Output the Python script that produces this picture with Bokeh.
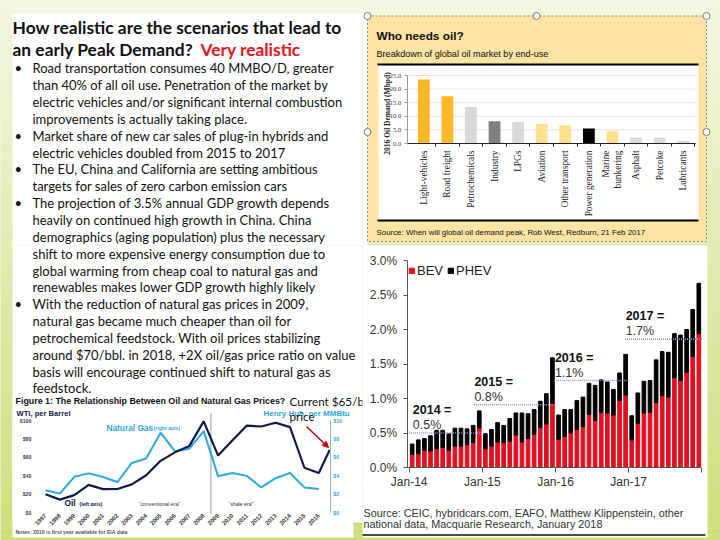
import math
from bokeh.plotting import figure
from bokeh.models import (Range1d, LinearAxis, FixedTicker, PrintfTickFormatter,
                          NumeralTickFormatter, ColumnDataSource, Arrow, NormalHead)
from bokeh.core.properties import value
from bokeh.embed import file_html
from bokeh.resources import INLINE

# ---------------- data ----------------
# Who needs oil? 2016 oil demand by end use (Mbpd)
end_uses = ["Light-vehicles", "Road freight", "Petrochemicals", "Industry", "LPGs",
            "Aviation", "Other transport", "Power generation", "Marine\nbunkering",
            "Asphalt", "Petcoke", "Lubricants"]
oil_demand = [23.5, 17.4, 13.4, 8.2, 7.9, 7.3, 6.6, 5.5, 4.5, 2.1, 2.1, 1.0]
end_use_colors = ["#FDB827", "#FDB827", "#D9D9D9", "#808080", "#D9D9D9", "#FFE08C",
                  "#FFE08C", "#000000", "#FFE08C", "#D9D9D9", "#D9D9D9", "#D9D9D9"]
od_ticks = [0, 5, 10, 15, 20, 25]

# EV market share, monthly Jan-14 .. Dec-17 (% of new car sales)
months = [f"{m}-{y}" for y in ("14", "15", "16", "17")
          for m in ("Jan", "Feb", "Mar", "Apr", "May", "Jun",
                    "Jul", "Aug", "Sep", "Oct", "Nov", "Dec")]
bev = [0.19, 0.20, 0.25, 0.24, 0.27, 0.29, 0.25, 0.31, 0.31, 0.33, 0.36, 0.57,
       0.27, 0.31, 0.37, 0.36, 0.38, 0.47, 0.37, 0.42, 0.48, 0.58, 0.63, 0.93,
       0.41, 0.45, 0.50, 0.55, 0.59, 0.77, 0.68, 0.80, 0.79, 0.76, 0.97, 1.05,
       0.40, 0.64, 0.79, 0.80, 0.94, 1.04, 1.02, 1.30, 1.26, 1.38, 1.61, 1.94]
phev = [0.15, 0.20, 0.17, 0.22, 0.27, 0.25, 0.24, 0.26, 0.26, 0.23, 0.25, 0.25,
        0.22, 0.24, 0.28, 0.25, 0.33, 0.32, 0.42, 0.36, 0.36, 0.38, 0.44, 0.66,
        0.35, 0.39, 0.34, 0.42, 0.43, 0.45, 0.51, 0.47, 0.45, 0.37, 0.40, 0.59,
        0.35, 0.44, 0.46, 0.46, 0.62, 0.64, 0.65, 0.64, 0.66, 0.62, 0.68, 0.73]
ev_ticks = [0, 0.5, 1.0, 1.5, 2.0, 2.5, 3.0]
avg_year_labels = ["2014 =", "2015 =", "2016 =", "2017 ="]
avg_value_labels = ["0.5%", "0.8%", "1.1%", "1.7%"]
avg_level = [0.50, 0.91, 1.26, 1.86]
avg_start = [-0.5, 10.1, 23.3, 34.9]
avg_end = [11.7, 23.1, 35.6, 47.6]

# Oil (WTI $/bbl) and natural gas (Henry Hub $/MMBtu) prices
years = list(range(1997, 2017))
oil_price = [20.2, 14.3, 19.2, 30.2, 25.7, 25.8, 30.8, 40.7, 56.3, 65.5,
             72.5, 99.0, 62.0, 78.5, 94.5, 93.5, 97.5, 92.8, 48.8, 43.2]
oil_current_year = 2016.75
oil_current = 68.0
gas_price = [2.45, 2.08, 3.90, 4.27, 3.88, 3.33, 5.40, 5.88, 8.68, 6.65,
             6.95, 8.85, 3.95, 4.32, 4.00, 2.75, 3.75, 4.32, 2.75, 2.58]
oil_ticks = [0, 20, 40, 60, 80, 100]
gas_ticks = [0, 2, 4, 6, 8, 10]
era_split = 2008.5

title_line1 = "How realistic are the scenarios that lead to"
title_line2 = "an early Peak Demand?"
title_red = "Very realistic"
body_lines = [
    ("\u2022", "Road transportation consumes 40 MMBO/D, greater"),
    ("", "than 40% of all oil use.  Penetration of the market by"),
    ("", "electric vehicles and/or significant  internal combustion"),
    ("", "improvements is actually taking place."),
    ("\u2022", "Market share of new car sales of plug-in hybrids and"),
    ("", "electric vehicles doubled from 2015 to 2017"),
    ("\u2022", "The EU, China and California are setting ambitious"),
    ("", "targets for sales of zero carbon emission cars"),
    ("\u2022", "The projection of 3.5% annual GDP growth depends"),
    ("", "heavily on continued high growth in China.  China"),
    ("", "demographics (aging population) plus the necessary"),
    ("", "shift to more expensive energy consumption due to"),
    ("", "global warming from cheap coal to natural gas and"),
    ("", "renewables makes lower GDP growth highly likely"),
    ("\u2022", "With the reduction of natural gas prices in 2009,"),
    ("", "natural gas became much cheaper than oil for"),
    ("", "petrochemical feedstock.  With oil prices stabilizing"),
    ("", "around $70/bbl. in 2018,  +2X oil/gas price ratio on value"),
    ("", "basis will encourage continued shift to natural gas as"),
    ("", "feedstock."),
]

# ---------------- helpers ----------------
W, H = 720, 540

def span_range(v0, p0, v1, p1, lo, hi):
    k = (v1 - v0) / (p1 - p0)
    return Range1d(start=v0 + (lo - p0) * k, end=v0 + (hi - p0) * k)

def px_to(v0, p0, v1, p1, px):
    return v0 + (px - p0) * (v1 - v0) / (p1 - p0)

p = figure(width=W, height=H, x_range=Range1d(0, W), y_range=Range1d(H, 0),
           output_backend="svg", toolbar_location=None, x_axis_location=None,
           y_axis_location=None, min_border=0, outline_line_color=None,
           background_fill_color="#E2EDB5", border_fill_color="#E2EDB5")
p.xgrid.visible = False
p.ygrid.visible = False

p.extra_x_ranges = {
    "odx": span_range(0, 423.3, 11, 682.7, 0, W),
    "evx": span_range(0, 411.7, 47, 698.3, 0, W),
    "lcx": span_range(1997, 45.0, 2016, 318.3, 0, W),
}
p.extra_y_ranges = {
    "ody": span_range(0, 143, 25, 75, H, 0),
    "evy": span_range(0, 467, 3, 260, H, 0),
    "lcy": span_range(0, 512.3, 100, 420, H, 0),
    "lcg": span_range(0, 512.3, 10, 420, H, 0),
}

def txt(x, y, s, size, color="#1a1a1a", font="Lato", style="normal", align="left",
        baseline="middle", angle=0, **kw):
    p.text(x=[x], y=[y], text=[s], text_font=value(font), text_font_size=f"{size}px",
           text_font_style=style, text_color=color, text_align=align,
           text_baseline=baseline, angle=angle, **kw)

def box(l, r, t, b, color, **kw):
    p.quad(left=[l], right=[r], top=[t], bottom=[b], fill_color=color, line_color=None, **kw)

# ---------------- slide background (pale top -> green bottom) ----------------
c_top, c_bot = (243, 247, 228), (204, 223, 120)
nb = 90
bands_t = [H * i / nb for i in range(nb)]
bands_b = [H * (i + 1) / nb for i in range(nb)]
band_cols = []
for i in range(nb):
    f = (i + 0.5) / nb
    band_cols.append("#%02x%02x%02x" % tuple(round(a + (b - a) * f) for a, b in zip(c_top, c_bot)))
p.quad(left=0, right=W, top=bands_t, bottom=bands_b, fill_color=band_cols, line_color=None)

box(12, 367, 13, 245, "white")
box(12, 362, 245, 522, "white")
box(12, 353, 395, 537, "white")

# ---------------- left text ----------------
txt(12, 26.7, title_line1, 17.4, style="bold", color="#111111")
txt(12, 49, title_line2, 17.4, style="bold", color="#111111")
txt(200, 49, title_red, 17.4, style="bold", color="#E8141B")
for i, (bul, line) in enumerate(body_lines):
    yy = 67.8 + 16.85 * i
    if bul:
        txt(14, yy, bul, 13, color="#111111")
    txt(32, yy, line, 13, color="#111111")

# ---------------- oil vs gas line chart ----------------
NAVY = "#0E1A48"
LBLUE = "#2FA8E0"
txt(15, 400, "Figure 1: The Relationship Between Oil and Natural Gas Prices?", 8.9,
    font="Liberation Sans", style="bold", color="#111111")
txt(16, 412.5, "WTI, per Barrel", 7.6, font="Liberation Sans", style="bold", color=NAVY)
txt(263, 412.5, "Henry Hub, per MMBtu", 8, font="Liberation Sans", style="bold", color=LBLUE)

p.segment(x0=[era_split], x1=[era_split], y0=[-1], y1=[108], line_color="#9A9A9A",
          line_width=1, x_range_name="lcx", y_range_name="lcy")
p.line(x=years, y=gas_price, line_color=LBLUE, line_width=2,
       x_range_name="lcx", y_range_name="lcg")
p.line(x=years + [oil_current_year], y=oil_price + [oil_current], line_color=NAVY,
       line_width=2.2, x_range_name="lcx", y_range_name="lcy")

txt(106, 427, "Natural Gas", 8.3, font="Liberation Sans", style="bold", color=LBLUE)
txt(153, 427.5, "(right axis)", 5.2, font="Liberation Sans", style="bold", color=LBLUE)
txt(64, 502.5, "Oil", 8.3, font="Liberation Sans", style="bold", color=NAVY)
txt(79, 503, "(left axis)", 5.2, font="Liberation Sans", style="bold", color=NAVY)
txt(138, 503.5, "\u201cconventional era\u201d", 5.2, font="Liberation Sans", color="#333333")
txt(228, 503.5, "\u201cshale era\u201d", 5.2, font="Liberation Sans", color="#333333")
txt(15, 531, "Notes: 2016 is first year available for EIA data", 5.2,
    font="Liberation Sans", style="bold", color="#555555")
txt(289, 400, "Current $65/bbl", 11.7, color="#111111")
txt(289, 415.5, "price", 11.7, color="#111111")

lc_left = LinearAxis(x_range_name="lcx", y_range_name="lcy", fixed_location=1996.5,
                     bounds=(0, 100), ticker=FixedTicker(ticks=oil_ticks),
                     formatter=NumeralTickFormatter(format="$0"))
lc_right = LinearAxis(x_range_name="lcx", y_range_name="lcg", fixed_location=2016.8,
                      bounds=(0, 10), ticker=FixedTicker(ticks=gas_ticks),
                      formatter=NumeralTickFormatter(format="$0"))
lc_bottom = LinearAxis(x_range_name="lcx", y_range_name="lcy", fixed_location=0,
                       bounds=(1997, 2016), ticker=FixedTicker(ticks=years))
for ax, col in ((lc_left, "#444444"), (lc_right, LBLUE), (lc_bottom, "#333333")):
    ax.axis_line_color = None
    ax.major_tick_line_color = None
    ax.minor_tick_line_color = None
    ax.major_tick_out = 0
    ax.major_tick_in = 0
    ax.major_label_text_font = "Liberation Sans"
    ax.major_label_text_font_style = "bold"
    ax.major_label_text_font_size = "5.2px"
    ax.major_label_text_color = col
lc_left.major_label_standoff = 7
lc_right.axis_line_color = "#AAAAAA"
lc_right.major_label_standoff = 3
lc_bottom.major_label_orientation = math.pi / 4
lc_bottom.major_label_text_font_size = "6px"
lc_bottom.major_label_standoff = 2
p.add_layout(lc_left, "left")
p.add_layout(lc_right, "right")
p.add_layout(lc_bottom, "below")

p.add_layout(Arrow(end=NormalHead(size=6, fill_color="#C00000", line_color="#C00000"),
                   x_start=306, y_start=426, x_end=328, y_end=447,
                   line_color="#C00000", line_width=1.5))

# ---------------- Who needs oil? panel ----------------
box(367, 706, 15, 241, "#FAE3A3")
box(378, 698, 64, 220, "white")
p.segment(x0=[377, 377], x1=[698, 698], y0=[64, 220], y1=[64, 220],
          line_color="black", line_width=2.2)
p.quad(left=[367], right=[706], top=[15.5], bottom=[241], fill_color=None,
       line_color="#8C8C8C", line_dash="2 2", line_width=1)
p.scatter(x=[367, 536, 706, 367, 706], y=[15.5, 15.5, 15.5, 131.5, 131.5],
          marker="circle", size=7, fill_color="white", line_color="#7F7F7F")
txt(376, 35, "Who needs oil?", 11.8, font="Liberation Sans", style="bold", color="#111111")
txt(376, 53, "Breakdown of global oil market by end-use", 9.1,
    font="Liberation Sans", color="#111111")
txt(376, 232, "Source: When will global oil demand peak, Rob West, Redburn, 21 Feb 2017",
    7.9, font="Liberation Sans", color="#111111")
txt(387, 113, "2016 Oil Demand (Mbpd)", 7.5, font="Liberation Serif", style="bold",
    color="#222222", align="center", angle=math.pi / 2)

od_axis_x = px_to(0, 423.3, 11, 682.7, 406.7)
od_axis_end = px_to(0, 423.3, 11, 682.7, 695.0)
idx = list(range(len(end_uses)))
p.segment(x0=[od_axis_x] * 5, x1=[od_axis_end] * 5, y0=od_ticks[1:], y1=od_ticks[1:],
          line_color="#E4E4E4", line_width=1, x_range_name="odx", y_range_name="ody")
p.vbar(x=idx, top=oil_demand, width=0.5, fill_color=end_use_colors, line_color=None,
       x_range_name="odx", y_range_name="ody")

od_y = LinearAxis(x_range_name="odx", y_range_name="ody", fixed_location=od_axis_x,
                  bounds=(0, 25), ticker=FixedTicker(ticks=od_ticks),
                  formatter=PrintfTickFormatter(format="%.1f"))
od_y.axis_line_color = "#999999"
od_y.major_tick_line_color = "#999999"
od_y.major_tick_out = 3
od_y.major_tick_in = 0
od_y.minor_tick_line_color = None
od_y.major_label_text_font = "Liberation Serif"
od_y.major_label_text_font_size = "6.5px"
od_y.major_label_text_color = "#333333"
od_y.major_label_standoff = 3
p.add_layout(od_y, "left")

od_xt = LinearAxis(x_range_name="odx", y_range_name="ody", fixed_location=0,
                   bounds=(od_axis_x, od_axis_end),
                   ticker=FixedTicker(ticks=[i + 0.5 for i in idx]))
od_xt.axis_line_color = "#222222"
od_xt.axis_line_width = 1.2
od_xt.major_tick_line_color = "#222222"
od_xt.major_tick_out = 3
od_xt.major_tick_in = 0
od_xt.minor_tick_line_color = None
od_xt.major_label_text_color = None
p.add_layout(od_xt, "below")

od_xl = LinearAxis(x_range_name="odx", y_range_name="ody", fixed_location=0,
                   ticker=FixedTicker(ticks=idx),
                   major_label_overrides={i: n for i, n in zip(idx, end_uses)})
od_xl.axis_line_color = None
od_xl.major_tick_line_color = None
od_xl.minor_tick_line_color = None
od_xl.major_tick_out = 0
od_xl.major_tick_in = 0
od_xl.major_label_orientation = math.pi / 2
od_xl.major_label_standoff = 7
od_xl.major_label_text_font = "Liberation Serif"
od_xl.major_label_text_font_size = "9.4px"
od_xl.major_label_text_color = "#222222"
p.add_layout(od_xl, "below")

# ---------------- EV market share panel ----------------
RED = "#E3101F"
box(362, 707, 245, 537, "white")
p.segment(x0=[362], x1=[705], y0=[534.5], y1=[534.5], line_color="#111111", line_width=1.5)
ev_x = list(range(len(months)))
src = ColumnDataSource(dict(x=ev_x, bev=bev, phev=phev))
p.vbar_stack(["bev", "phev"], x="x", width=0.6, color=[RED, "#000000"], source=src,
             x_range_name="evx", y_range_name="evy", legend_label=["BEV", "PHEV"])
p.segment(x0=avg_start, x1=avg_end, y0=avg_level, y1=avg_level, line_color="#9C8FBF",
          line_width=1.6, line_dash="1 1", x_range_name="evx", y_range_name="evy")
lab_x = [max(s, 0) + 0.1 for s in avg_start]
p.text(x=lab_x, y=avg_level, text=avg_value_labels, text_font=value("Liberation Sans"),
       text_font_size="12.5px", text_color="#333333", text_baseline="middle",
       y_offset=-8, x_range_name="evx", y_range_name="evy")
p.text(x=lab_x, y=avg_level, text=avg_year_labels, text_font=value("Liberation Sans"),
       text_font_size="12.5px", text_font_style="bold", text_color="#111111",
       text_baseline="middle", y_offset=-23, x_range_name="evx", y_range_name="evy")

ev_axis_x = px_to(0, 411.7, 47, 698.3, 406.7)
ev_axis_end = px_to(0, 411.7, 47, 698.3, 700.0)
jan_ticks = [i - 0.5 for i, m in enumerate(months) if m.startswith("Jan")]
overrides = {t: months[int(t + 0.5)] for t in jan_ticks}
overrides[len(months) - 0.5] = ""
ev_y = LinearAxis(x_range_name="evx", y_range_name="evy", fixed_location=ev_axis_x,
                  bounds=(0, 3), ticker=FixedTicker(ticks=ev_ticks),
                  formatter=PrintfTickFormatter(format="%.1f%%"))
ev_xa = LinearAxis(x_range_name="evx", y_range_name="evy", fixed_location=0,
                   bounds=(ev_axis_x, ev_axis_end),
                   ticker=FixedTicker(ticks=jan_ticks + [len(months) - 0.5]),
                   major_label_overrides=overrides)
for ax in (ev_y, ev_xa):
    ax.axis_line_color = "#555555"
    ax.major_tick_line_color = "#555555"
    ax.minor_tick_line_color = None
    ax.major_tick_in = 0
    ax.major_label_text_font = "Liberation Sans"
    ax.major_label_text_font_size = "12px"
    ax.major_label_text_color = "#333333"
ev_y.major_tick_out = 4
ev_y.major_label_standoff = 6
ev_xa.major_tick_out = 5
ev_xa.major_label_standoff = 2
p.add_layout(ev_y, "left")
p.add_layout(ev_xa, "below")

lg = p.legend[0]
lg.location = (408, H - 278)
lg.orientation = "horizontal"
lg.background_fill_alpha = 0
lg.border_line_color = None
lg.label_text_font = "Liberation Sans"
lg.label_text_font_size = "13px"
lg.label_text_color = "#222222"
lg.glyph_width = 7
lg.glyph_height = 7
lg.label_standoff = 2
lg.spacing = 4
lg.padding = 0
lg.margin = 0
lg.label_height = 14

txt(363, 512, "Source: CEIC, hybridcars.com, EAFO, Matthew Klippenstein, other", 10.8,
    font="Liberation Sans", color="#333333")
txt(363, 523.5, "national data, Macquarie Research, January 2018", 10.8,
    font="Liberation Sans", color="#333333")

open("out.html", "w").write(file_html(p, INLINE))
